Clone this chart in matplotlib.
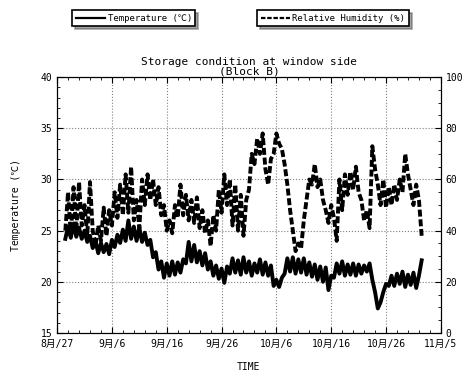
import matplotlib.pyplot as plt
from matplotlib.lines import Line2D
import pandas as pd

plt.rcParams['font.family'] = ['DejaVu Sans Mono', 'Noto Sans CJK JP']

# readings every 12 h, starting 8/28 12:00
start = '2003-08-28 12:00'

temperature = [
    24.2, 25.4, 24.3, 25.7, 24.4, 25.3, 24.2, 25.0, 23.9, 24.5,
    23.3, 24.0, 22.8, 23.8, 22.9, 23.7, 22.7, 24.1, 23.4, 24.6,
    23.8, 25.1, 24.0, 26.0, 24.2, 25.4, 24.0, 25.3, 23.9, 24.8,
    23.6, 24.1, 22.4, 22.9, 21.2, 22.0, 20.4, 21.8, 20.6, 22.0,
    20.7, 21.9, 20.9, 22.2, 21.8, 23.9, 22.0, 23.6, 21.9, 23.0,
    21.6, 22.8, 21.2, 22.0, 20.6, 21.6, 20.3, 21.3, 19.9, 21.5,
    20.8, 22.3, 20.9, 22.1, 20.7, 22.4, 20.9, 22.0, 20.6, 21.8,
    20.9, 22.2, 20.7, 21.9, 20.6, 21.6, 19.6, 20.2, 19.5, 20.4,
    20.8, 22.3, 21.0, 22.4, 20.8, 22.2, 20.9, 22.3, 20.7, 21.9,
    20.5, 21.7, 20.2, 21.5, 20.0, 21.4, 19.2, 20.6, 20.4, 21.8,
    20.8, 22.0, 20.6, 21.7, 20.7, 21.8, 20.6, 21.7, 20.8, 21.6,
    21.0, 21.8, 20.2, 19.0, 17.4, 18.0, 19.0, 19.8, 19.6, 20.6,
    19.6, 20.8, 19.8, 21.0, 19.5, 20.7, 19.7, 20.9, 19.4, 20.6,
    22.1,
]

humidity = [
    40, 55, 38, 57, 40, 59, 42, 50, 38, 59,
    40, 34, 42, 36, 49, 38, 48, 42, 55, 45,
    58, 46, 62, 47, 65, 44, 52, 41, 60, 50,
    62, 52, 60, 50, 57, 46, 50, 40, 44, 39,
    50, 45, 58, 46, 54, 44, 52, 43, 53, 41,
    48, 39, 44, 34, 46, 40, 56, 47, 62, 50,
    60, 42, 58, 40, 54, 38, 52, 56, 70, 66,
    76, 70, 78, 64, 58, 68, 70, 78, 74, 72,
    66, 58, 48, 40, 32, 35, 33, 44, 52, 60,
    58, 66, 57, 60, 52, 48, 43, 50, 45, 36,
    60, 48, 62, 54, 63, 56, 65, 55, 52, 44,
    48, 41, 73, 64, 58, 50, 60, 49, 57, 50,
    58, 52, 60, 55, 70, 62, 56, 50, 58, 52,
    38,
]

times = pd.date_range(start, periods=len(temperature), freq='12h')

fig = plt.figure(figsize=(4.68, 3.78), dpi=100)
ax = fig.add_axes([0.122, 0.119, 0.820, 0.677])
ax2 = ax.twinx()

ax.plot(times, temperature, color='black', lw=2.8)
ax2.plot(times, humidity, color='black', lw=2.8, ls=(0, (1.8, 0.7)))

major = pd.date_range('2003-08-27', '2003-11-05', freq='10D')
minor = pd.date_range('2003-08-27', '2003-11-05', freq='2D')
ax.set_xlim(major[0], major[-1])
ax.set_xticks(major)
ax.set_xticks(minor, minor=True)
ax.set_xticklabels([f'{d.month}月/{d.day}' for d in major])

ax.set_ylim(15, 40)
ax.set_yticks(range(15, 41, 5))
ax.set_yticks(range(15, 41), minor=True)
ax2.set_ylim(0, 100)
ax2.set_yticks(range(0, 101, 20))
ax2.set_yticks(range(0, 101, 5), minor=True)

for a in (ax, ax2):
    a.tick_params(which='both', direction='in', labelsize=7, top=True)
    a.tick_params(which='major', length=4)
    a.tick_params(which='minor', length=2)
ax.tick_params(axis='x', pad=4)
ax.grid(True, which='major', color='gray', ls=':', lw=0.8)

ax.set_xlabel('TIME', fontsize=7, labelpad=10)
ax.set_ylabel('Temperature (℃)', fontsize=7, labelpad=14)
ax.set_title('Storage condition at window side\n(Block B)', fontsize=8,
             linespacing=0.9, pad=2)

h1 = [Line2D([], [], color='black', lw=1.6)]
h2 = [Line2D([], [], color='black', lw=1.6, ls=(0, (2.0, 0.8)))]
for h, lab, pos in ((h1, 'Temperature (℃)', (0.145, 0.985)),
                    (h2, 'Relative Humidity (%)', (0.54, 0.985))):
    leg = fig.legend(h, [lab], loc='upper left', bbox_to_anchor=pos,
                     fontsize=6.5, frameon=True, fancybox=False, shadow=True,
                     edgecolor='black', handlelength=3.2, handletextpad=0.3,
                     borderpad=0.4)
    leg.get_frame().set_linewidth(1.2)

fig.savefig('out.png', dpi=100)
